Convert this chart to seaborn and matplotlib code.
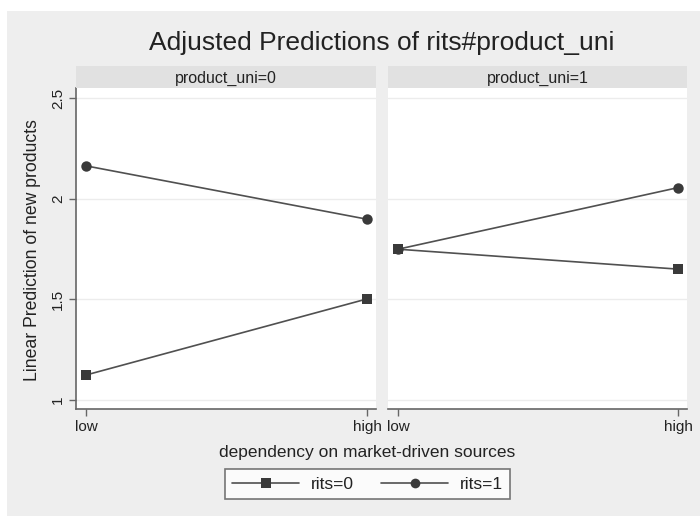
import matplotlib
matplotlib.use("Agg")
import matplotlib.pyplot as plt
from matplotlib.patches import Rectangle
from matplotlib.lines import Line2D
import seaborn as sns
import pandas as pd

sns.set_theme(style="white")
plt.rcParams["font.family"] = ["Liberation Sans", "DejaVu Sans"]

# Adjusted predictions (margins) by rits and product_uni
dependency_levels = ["low", "high"]
panels = ["product_uni=0", "product_uni=1"]
rits0_uni0 = [1.124, 1.502]
rits1_uni0 = [2.163, 1.898]
rits0_uni1 = [1.749, 1.650]
rits1_uni1 = [1.749, 2.055]
y_ticks = [1, 1.5, 2, 2.5]
y_tick_labels = ["1", "1.5", "2", "2.5"]

rows = []
for p, (r0, r1) in enumerate([(rits0_uni0, rits1_uni0), (rits0_uni1, rits1_uni1)]):
    for i in range(len(dependency_levels)):
        rows.append({"panel": p, "x": i, "rits": "rits=0", "pred": r0[i]})
        rows.append({"panel": p, "x": i, "rits": "rits=1", "pred": r1[i]})
df = pd.DataFrame(rows)

W, H = 700, 516
fig = plt.figure(figsize=(W / 100, H / 100), dpi=100)
fig.patch.set_facecolor("white")
fig.patches.append(Rectangle((7 / W, 0), 1 - 7 / W, 1 - 11 / H, transform=fig.transFigure,
                             facecolor="#eeeeee", edgecolor="none", zorder=-10))

def px_rect(x0, y0, x1, y1):
    return [x0 / W, 1 - y1 / H, (x1 - x0) / W, (y1 - y0) / H]

line_col = "#505050"
mark_col = "#3a3a3a"
axes_px = [(76, 376), (388, 687)]

for p, (x0, x1) in enumerate(axes_px):
    ax = fig.add_axes(px_rect(x0, 88, x1, 409))
    ax.set_facecolor("white")
    sub = df[df["panel"] == p]
    sns.lineplot(data=sub, x="x", y="pred", hue="rits", style="rits",
                 markers={"rits=0": "s", "rits=1": "o"}, dashes=False,
                 palette={"rits=0": line_col, "rits=1": line_col},
                 markersize=7.5, linewidth=1.2, markeredgewidth=0,
                 markerfacecolor=mark_col, legend=False, ax=ax)
    ax.set_xlim(-0.036, 1.032)
    ax.set_ylim(0.955, 2.55)
    ax.set_yticks(y_ticks)
    ax.grid(axis="y", color="#ececec", linewidth=1.0)
    ax.set_axisbelow(True)
    ax.set_xticks(range(len(dependency_levels)))
    ax.set_xticklabels(dependency_levels, fontsize=11, color="#222222")
    ax.set_xlabel("")
    ax.set_ylabel("")
    for s in ["top", "right"]:
        ax.spines[s].set_visible(False)
    ax.spines["bottom"].set_color("#666666")
    ax.spines["bottom"].set_linewidth(1.2)
    ax.tick_params(axis="x", length=5, width=1, color="#666666", pad=3, direction="out", bottom=True)
    if p == 0:
        ax.spines["left"].set_color("#666666")
        ax.spines["left"].set_linewidth(1.2)
        ax.set_yticklabels(y_tick_labels, rotation=90, va="center", fontsize=11, color="#222222")
        ax.tick_params(axis="y", length=5, width=1, color="#666666", pad=3, direction="out", left=True)
    else:
        ax.spines["left"].set_visible(False)
        ax.set_yticklabels([])
        ax.tick_params(axis="y", length=0)
    # panel strip
    sax = fig.add_axes(px_rect(x0, 66, x1, 88))
    sax.set_facecolor("#e1e1e1")
    sax.set_xticks([]); sax.set_yticks([])
    for s in sax.spines.values():
        s.set_visible(False)
    sax.text(0.5, 0.45, panels[p], ha="center", va="center", fontsize=11.5, color="#222222",
             transform=sax.transAxes)

fig.text(382 / W, 1 - 43 / H, "Adjusted Predictions of rits#product_uni",
         ha="center", va="center", fontsize=19, color="#222222")
fig.text(33 / W, 1 - 250 / H, "Linear Prediction of new products",
         ha="center", va="center", rotation=90, fontsize=12.7, color="#222222")
fig.text(367 / W, 1 - 452 / H, "dependency on market-driven sources",
         ha="center", va="center", fontsize=12.5, color="#222222")

handles = [
    Line2D([], [], color=line_col, linewidth=1.2, marker="s", markersize=7,
           markerfacecolor=mark_col, markeredgewidth=0),
    Line2D([], [], color=line_col, linewidth=1.2, marker="o", markersize=7,
           markerfacecolor=mark_col, markeredgewidth=0),
]
leg = fig.legend(handles, ["rits=0", "rits=1"], loc="center",
                 bbox_to_anchor=(367.5 / W, 1 - 484 / H), ncol=2, frameon=True,
                 fancybox=False, fontsize=12.5, handlelength=3.85, columnspacing=1.6,
                 handletextpad=0.65, borderpad=0.45)
leg.get_frame().set_edgecolor("#555555")
leg.get_frame().set_linewidth(1.2)
leg.get_frame().set_facecolor("white")
for t in leg.get_texts():
    t.set_color("#222222")

fig.savefig("out.png", dpi=100, facecolor=fig.get_facecolor())
